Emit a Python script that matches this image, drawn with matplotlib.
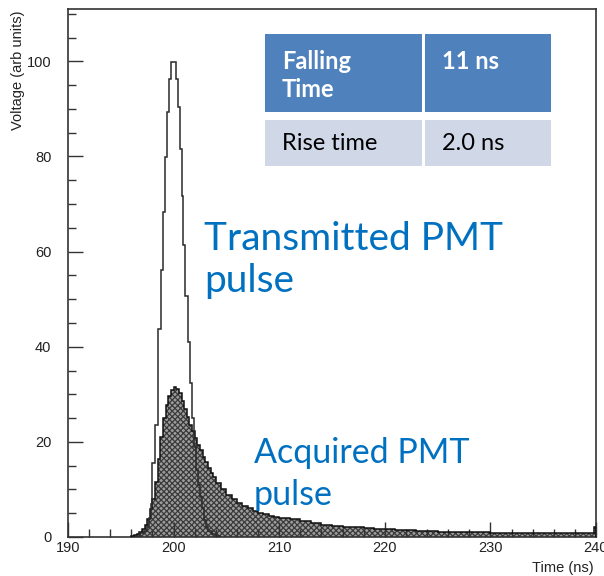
import numpy as np
import matplotlib
matplotlib.use("Agg")
import matplotlib.pyplot as plt
from matplotlib.ticker import MultipleLocator

# transmitted PMT pulse: step edges (ns) and bin heights (arb units)
TX_EDGES = [196.4, 196.8, 197.2, 197.45, 197.7, 197.85, 198.0, 198.25, 198.55, 198.8,
            199.0, 199.2, 199.35, 199.6, 199.8, 200.2, 200.4, 200.65, 200.8, 200.9,
            201.1, 201.35, 201.55, 201.7, 201.9, 202.1, 202.3, 202.5, 202.7, 202.9,
            203.1, 203.3, 203.6, 204.0, 204.4]
TX_VALS = [0.3, 0.8, 1.2, 2.2, 4.0, 7.0, 15.5, 23.5, 43.8, 56.1,
           68.3, 79.8, 89.4, 96.2, 99.9, 96.2, 90.4, 81.5, 71.7, 61.3,
           50.6, 41.0, 32.4, 25.0, 19.0, 14.0, 11.0, 8.5, 6.0, 3.5,
           2.0, 1.2, 0.6, 0.2]

# acquired PMT pulse: 0.25 ns bins near the peak, 0.5 ns then 1 ns in the tail
ACQ_EDGES = ([196.0 + 0.25 * i for i in range(32)] + [204.0 + 0.5 * i for i in range(16)]
             + [212.0 + i for i in range(28)] + [239.8, 240.0])
ACQ_VALS = [0.2, 0.4, 0.7, 1.1, 1.6, 2.5, 3.8, 5.8, 8.0, 11.5, 16.5, 21.0, 25.0, 27.8, 29.6, 30.8,
            31.5, 31.2, 30.2, 28.6, 26.9, 25.3, 23.6, 22.2, 20.8, 19.4, 18.2, 16.9, 15.7, 14.6, 13.5, 12.6,
            11.4, 10.0, 8.9, 8.0, 7.2, 6.6, 6.0, 5.5, 5.1, 4.8, 4.5, 4.2, 4.0, 3.95, 3.8, 3.7,
            3.4, 3.0, 2.6, 2.35, 2.15, 2.0, 1.85, 1.7, 1.6, 1.5, 1.4, 1.3, 1.2, 1.15, 1.1, 1.05,
            1.0, 0.95, 0.9, 0.9, 0.85, 0.85, 0.8, 0.8, 0.8, 0.75, 0.75, 0.75,
            2.2]

TABLE_ROWS = [["Falling\nTime", "11 ns"], ["Rise time", "2.0 ns"]]

BLUE_TXT = "#0070c0"
HEAD_BG = "#4f81bd"
ROW_BG = "#d0d8e8"
AX_COL = "#333333"
TXT_COL = "#222222"

plt.rcParams["hatch.linewidth"] = 0.9
fig = plt.figure(figsize=(6.04, 5.76), dpi=100)
ax = fig.add_axes([68 / 604, 39 / 576, 528 / 604, 528 / 576])

# acquired pulse: textured grey fill + black outline
ax.stairs(ACQ_VALS, ACQ_EDGES, fill=True, facecolor="#9c9c9c", edgecolor="#3a3a3a",
          hatch="xxxxxx", lw=0, zorder=2)
ax.stairs(ACQ_VALS, ACQ_EDGES, color="#111111", lw=1.1, zorder=3)
# transmitted pulse: outline only
ax.stairs(TX_VALS, TX_EDGES, color="#2a2a2a", lw=1.1, zorder=4)

ax.set_xlim(190, 240)
ax.set_ylim(0, 111)
ax.xaxis.set_major_locator(MultipleLocator(10))
ax.xaxis.set_minor_locator(MultipleLocator(2))
ax.yaxis.set_major_locator(MultipleLocator(20))
ax.yaxis.set_minor_locator(MultipleLocator(5))
ax.tick_params(which="both", direction="in", top=False, right=False, color=AX_COL,
               labelsize=10.5, labelcolor=TXT_COL, width=1.0)
ax.tick_params(which="major", length=11)
ax.tick_params(which="minor", length=6)
ax.tick_params(axis="x", which="major", pad=3)
ax.tick_params(axis="y", which="major", pad=12)
for lab in ax.get_xticklabels() + ax.get_yticklabels():
    lab.set_family("Liberation Sans")
for s in ax.spines.values():
    s.set_color(AX_COL)
    s.set_linewidth(1.2)
for t in ax.xaxis.get_major_ticks() + ax.xaxis.get_minor_ticks():
    t.tick1line.set_zorder(5)
ax.set_axisbelow(False)

fig.text(594 / 604, 1 - 568 / 576, "Time (ns)", ha="right", va="center", fontsize=10.5,
         family="Liberation Sans", color=TXT_COL)
fig.text(18 / 604, 1 - 10 / 576, "Voltage (arb units)", ha="center", va="top", rotation=90,
         fontsize=10.5, family="Liberation Sans", color=TXT_COL)

# annotations
fig.text(204 / 604, 1 - 260 / 576, "Transmitted PMT\npulse", fontsize=28, color=BLUE_TXT,
         family="Lato", va="center", ha="left", linespacing=1.2)
fig.text(254 / 604, 1 - 474 / 576, "Acquired PMT\npulse", fontsize=24.5, color=BLUE_TXT,
         family="Lato", va="center", ha="left", linespacing=1.35)

# parameter table
col_x = [265, 425]
col_w = [157, 126]
row_y = [34, 120]
row_h = [78, 46]
for r, row in enumerate(TABLE_ROWS):
    for c, txt in enumerate(row):
        x0, y0 = col_x[c], row_y[r]
        bg = HEAD_BG if r == 0 else ROW_BG
        fig.patches.append(plt.Rectangle((x0 / 604, 1 - (y0 + row_h[r]) / 576), col_w[c] / 604,
                                         row_h[r] / 576, transform=fig.transFigure,
                                         facecolor=bg, edgecolor="none", zorder=6))
        if r == 0:
            fig.text((x0 + 17) / 604, 1 - (y0 + 16) / 576, txt, ha="left", va="top",
                     fontsize=17, fontweight="bold", color="white", family="Lato",
                     linespacing=1.25, zorder=7)
        else:
            fig.text((x0 + 17) / 604, 1 - (y0 + row_h[r] / 2) / 576, txt, ha="left",
                     va="center", fontsize=17, color="black", family="Lato", zorder=7)

fig.savefig("out.png", dpi=100)
